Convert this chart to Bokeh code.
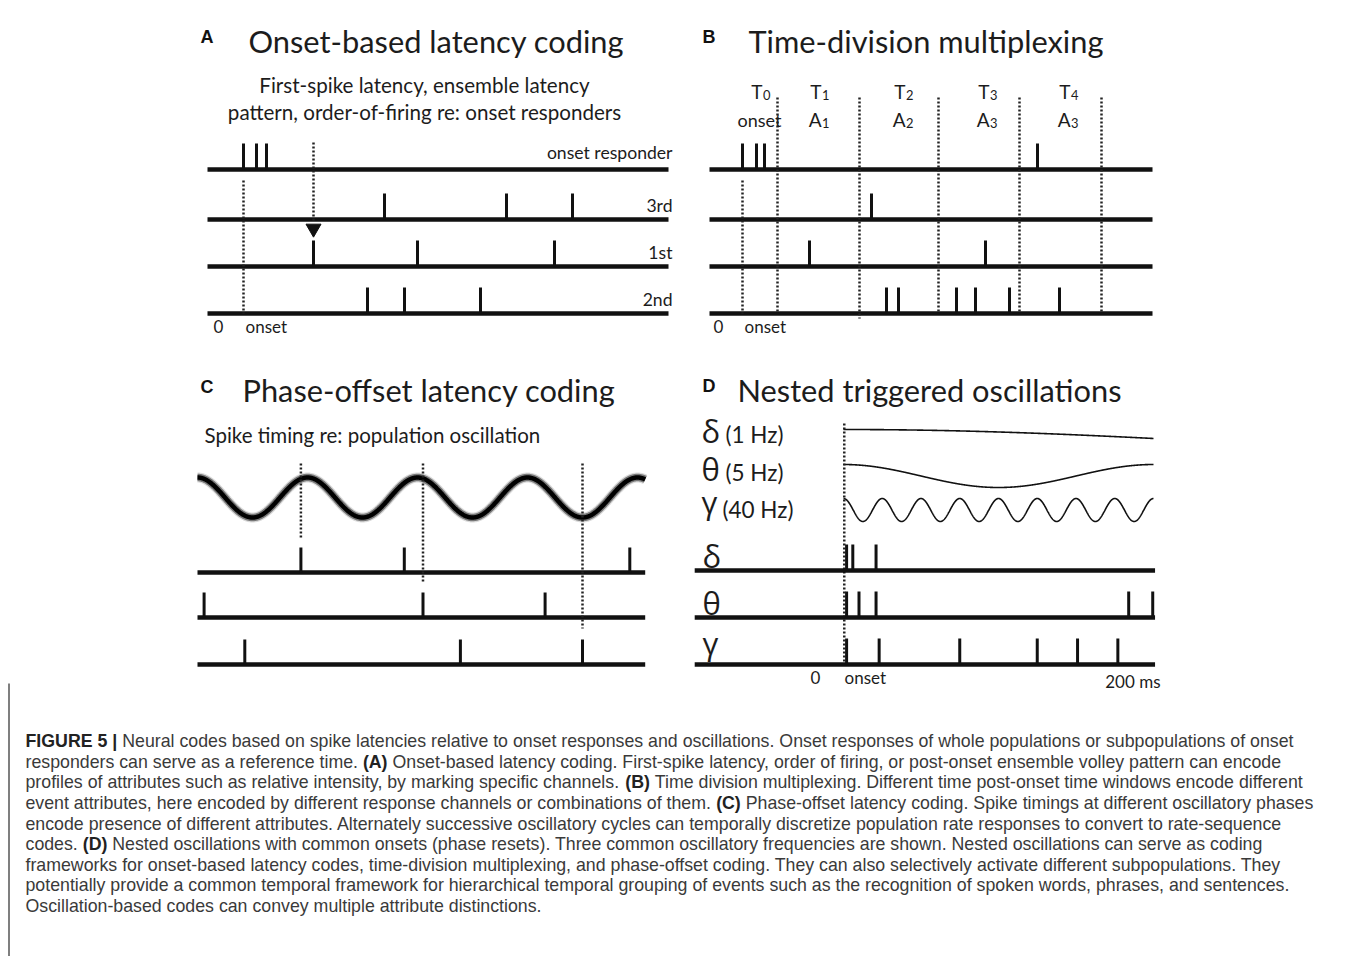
import numpy as np
from bokeh.plotting import figure
from bokeh.models import Range1d
from bokeh.core.properties import value
from bokeh.embed import file_html
from bokeh.resources import INLINE

# ---------------------------------------------------------------- data
# Panel A: onset-based latency coding (times in ms from trace start)
A_rows = ["onset responder", "3rd", "1st", "2nd"]
A_spikes = [[13, 19.5, 24.5], [83.5, 144.5, 177.5], [48, 100, 168.5], [75, 93.5, 131.5]]
A_onset = 13
A_first_spike = 48
A_trace = (-5, 225.5)

# Panel B: time-division multiplexing
B_spikes = [[12, 19, 23, 159.5], [76.5], [45.5, 133.5], [84, 90, 119, 128.5, 145.5, 170.5]]
B_onset = 12
B_trace = (-4.5, 217)
B_windows = [29.5, 70.5, 110, 150.5, 191.5]
B_win_T = ["T\u2080", "T\u2081", "T\u2082", "T\u2083", "T\u2084"]
B_win_A = ["onset", "A\u2081", "A\u2082", "A\u2083", "A\u2083"]
B_win_at = [22, 51.5, 93.5, 135.5, 176]

# Panel C: phase-offset latency coding
C_period = 100
C_trace = (0, 407)
C_spikes = [[94, 188, 393], [6, 205, 316], [43, 239, 350]]
C_markers = [94, 205, 350]

# Panel D: nested triggered oscillations
D_names = ["\u03b4", "\u03b8", "\u03b3"]
D_freqs = [1, 5, 40]
D_window = 200
D_trace = (-96, 201)
D_spikes = [[2, 6, 21], [2, 10, 21, 184, 199.5], [2, 23, 75, 125, 151, 177]]

caption = [
    "**FIGURE 5 |** Neural codes based on spike latencies relative to onset responses and oscillations. Onset responses of whole populations or subpopulations of onset",
    "responders can serve as a reference time. **(A)** Onset-based latency coding. First-spike latency, order of firing, or post-onset ensemble volley pattern can encode",
    "profiles of attributes such as relative intensity, by marking specific channels. **(B)** Time division multiplexing. Different time post-onset time windows encode different",
    "event attributes, here encoded by different response channels or combinations of them. **(C)** Phase-offset latency coding. Spike timings at different oscillatory phases",
    "encode presence of different attributes. Alternately successive oscillatory cycles can temporally discretize population rate responses to convert to rate-sequence",
    "codes. **(D)** Nested oscillations with common onsets (phase resets). Three common oscillatory frequencies are shown. Nested oscillations can serve as coding",
    "frameworks for onset-based latency codes, time-division multiplexing, and phase-offset coding. They can also selectively activate different subpopulations. They",
    "potentially provide a common temporal framework for hierarchical temporal grouping of events such as the recognition of spoken words, phrases, and sentences.",
    "Oscillation-based codes can convey multiple attribute distinctions.",
]

# ---------------------------------------------------------------- figure
W, H = 1354, 956
p = figure(width=W, height=H, x_range=Range1d(0, W), y_range=Range1d(H, 0),
           output_backend="svg", toolbar_location=None, min_border=0,
           x_axis_location=None, y_axis_location=None)
p.grid.visible = False
p.outline_line_color = None
p.background_fill_color = "white"

INK = "#111111"
TXT = "#1c1c1c"
BL = 0.41  # measured shift of the drawn baseline, in em


def txt(x, y, s, size, font="Lato", align="left", style="normal", color=TXT):
    p.text(x=[x], y=[y - BL * size], text=[s], text_font=value(font), text_font_size=f"{size}px",
           text_align=align, text_baseline="alphabetic", text_font_style=style, text_color=color)


def baselines(xmap, span, ys, w=4.5):
    n = len(ys)
    p.segment(x0=[xmap(span[0])] * n, x1=[xmap(span[1])] * n, y0=ys, y1=ys,
              line_width=w, line_color=INK, line_cap="butt")


def spikes(xmap, times, y, h=26, w=3):
    xs = [xmap(t) for t in times]
    p.segment(x0=xs, x1=xs, y0=[y] * len(xs), y1=[y - h] * len(xs),
              line_width=w, line_color=INK, line_cap="butt")


def dotted(x, y0, y1, w=2.5):
    p.segment(x0=[x], x1=[x], y0=[y0], y1=[y1], line_width=w, line_color="#222222",
              line_dash="2 2", line_cap="butt")


SUB = {"\u2080": "0", "\u2081": "1", "\u2082": "2", "\u2083": "3", "\u2084": "4"}


def sub_label(x, y, s, size=19):
    if s[-1] in SUB:
        txt(x, y, s[:-1], size, align="right")
        txt(x + 0.5, y + 1, SUB[s[-1]], round(size * 0.68, 1), align="left")
    else:
        txt(x - 3, y, s, 18, align="center")


# ---------------------------------------------------------------- panel A
def xA(t):
    return 217 + 2.0 * t

A_y = [169, 219, 266, 313]
txt(200, 44, "A", 18, font="Liberation Sans", style="bold", color="#111")
txt(248, 54, "Onset-based latency coding", 30.8)
txt(424, 93, "First-spike latency, ensemble latency", 20.6, align="center")
txt(424, 120, "pattern, order-of-firing re: onset responders", 20.6, align="center")
baselines(xA, A_trace, A_y)
for row, y in zip(A_spikes, A_y):
    spikes(xA, row, y)
lab_y = [159, 212, 259, 306]
for name, y in zip(A_rows, lab_y):
    txt(xA(A_trace[1]) + 4, y, name, 17.6, align="right")
dotted(xA(A_onset), 180, 313)
dotted(xA(A_first_spike), 142, 222)
p.scatter(x=[xA(A_first_spike)], y=[228], marker="inverted_triangle", size=15,
          fill_color=INK, line_color=INK)
txt(xA(0) - 4, 333, "0", 17)
txt(xA(A_onset) + 2, 333, "onset", 17)

# ---------------------------------------------------------------- panel B
def xB(t):
    return 718 + 2.0 * t

B_y = [169, 219, 266, 313]
txt(702, 44, "B", 18, font="Liberation Sans", style="bold", color="#111")
txt(748, 54, "Time-division multiplexing", 30.8)
baselines(xB, B_trace, B_y)
for row, y in zip(B_spikes, B_y):
    spikes(xB, row, y)
dotted(xB(B_onset), 180, 313)
for i, t in enumerate(B_windows):
    dotted(xB(t), 97, 318 if i == 1 else 313)
for s, t in zip(B_win_T, B_win_at):
    sub_label(xB(t), 99, s)
for s, t in zip(B_win_A, B_win_at):
    sub_label(xB(t), 127, s)
txt(xB(0) - 5, 333, "0", 17)
txt(xB(B_onset) + 2, 333, "onset", 17)

# ---------------------------------------------------------------- panel C
def xC(t):
    return 197 + 1.1 * t

C_y = [572, 617, 664]
txt(200, 394, "C", 18, font="Liberation Sans", style="bold", color="#111")
txt(242, 403, "Phase-offset latency coding", 30.8)
txt(204, 443, "Spike timing re: population oscillation", 20.5)
tc = np.linspace(C_trace[0], C_trace[1], 900)
yc = 497 - 20 * np.cos(2 * np.pi * tc / C_period)
xc = [xC(t) for t in tc]
p.line(xc, yc, line_width=10, line_color="black", line_alpha=0.15)
p.line(xc, yc, line_width=7.5, line_color="black", line_alpha=0.45)
p.line(xc, yc, line_width=4.5, line_color="black")
baselines(xC, C_trace, C_y)
for row, y in zip(C_spikes, C_y):
    spikes(xC, row, y, h=25)
for t, yend in zip(C_markers, [537, 583, 628]):
    dotted(xC(t), 463, yend)

# ---------------------------------------------------------------- panel D
def xD(t):
    return 843 + 1.55 * t

D_y = [570, 617, 664]
txt(702, 393, "D", 18, font="Liberation Sans", style="bold", color="#111")
txt(737, 403, "Nested triggered oscillations", 30.8)
wave_base = [429, 464, 498]
wave_amp = [13, 11.5, 11.5]
label_base = [443, 481, 514]
hz_base = [443, 481, 518]
td = np.linspace(0, D_window, 1200)
for name, f, yb, a, lb, hb in zip(D_names, D_freqs, wave_base, wave_amp, label_base, hz_base):
    yd = yb + a * (1 - np.cos(2 * np.pi * f * td / 1000.0))
    p.line([xD(t) for t in td], yd, line_width=1.6, line_color=INK)
    txt(701, lb, name, 31, font="Open Sans")
    txt(722 if f == 40 else 725, hb, f"({f} Hz)", 22.5)
dotted(xD(0.5), 423, 667)
baselines(xD, D_trace, D_y)
for row, y in zip(D_spikes, D_y):
    spikes(xD, row, y)
for name, y in zip(D_names, [568, 615, 655]):
    txt(702, y, name, 31, font="Open Sans")
txt(810, 684, "0", 17)
txt(xD(0) + 1, 684, "onset", 17)
txt(xD(D_window) + 7, 688, "200 ms", 17, align="right")

# ---------------------------------------------------------------- caption
HELV = {' ': 278, '!': 278, '(': 333, ')': 333, ',': 278, '-': 333, '.': 278, ':': 278, '|': 260,
        '0': 556, '1': 556, '2': 556, '3': 556, '4': 556, '5': 556, '6': 556, '7': 556, '8': 556, '9': 556,
        'A': 667, 'B': 667, 'C': 722, 'D': 722, 'E': 667, 'F': 611, 'G': 778, 'H': 722, 'I': 278, 'J': 500,
        'K': 667, 'L': 556, 'M': 833, 'N': 722, 'O': 778, 'P': 667, 'Q': 778, 'R': 722, 'S': 667, 'T': 611,
        'U': 722, 'V': 667, 'W': 944, 'X': 667, 'Y': 667, 'Z': 611,
        'a': 556, 'b': 556, 'c': 500, 'd': 556, 'e': 556, 'f': 278, 'g': 556, 'h': 556, 'i': 222, 'j': 222,
        'k': 500, 'l': 222, 'm': 833, 'n': 556, 'o': 556, 'p': 556, 'q': 556, 'r': 333, 's': 500, 't': 278,
        'u': 556, 'v': 500, 'w': 722, 'x': 500, 'y': 500, 'z': 500}
HELV_B = {' ': 278, '(': 333, ')': 333, '|': 280, '5': 556, 'A': 722, 'B': 722, 'C': 722, 'D': 722,
          'E': 667, 'F': 611, 'G': 778, 'I': 278, 'R': 722, 'U': 722}


def em_width(s, bold=False):
    tab = HELV_B if bold else HELV
    return sum(tab.get(c, 556) for c in s) / 1000.0


def parse(line):
    parts = line.split("**")
    return [(seg, i % 2 == 1) for i, seg in enumerate(parts) if seg]


cap_x0, cap_x1 = 25, 1293
line1 = parse(caption[0])
cap_px = round((cap_x1 - cap_x0) / sum(em_width(s, b) for s, b in line1), 2)
cap_y0, cap_dy = 748, 20.6
for i, line in enumerate(caption):
    x = cap_x0
    y = cap_y0 + i * cap_dy
    for seg, bold in parse(line):
        lead = len(seg) - len(seg.lstrip(" "))
        x += em_width(" " * lead, bold) * cap_px
        seg = seg.lstrip(" ")
        txt(x, y, seg, cap_px, font="Liberation Sans",
            style="bold" if bold else "normal", color="#222" if bold else "#3a3a3a")
        x += em_width(seg, bold) * cap_px

# left rule of caption box
p.segment(x0=[8.5], x1=[8.5], y0=[683], y1=[957], line_width=1.5, line_color="#555555")

open("out.html", "w").write(file_html(p, INLINE))
